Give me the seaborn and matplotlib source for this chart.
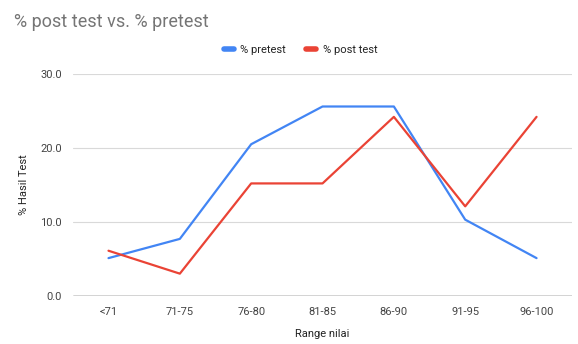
import pandas as pd
import seaborn as sns
import matplotlib.pyplot as plt
from matplotlib.lines import Line2D

# Data
categories = ["<71", "71-75", "76-80", "81-85", "86-90", "91-95", "96-100"]
pretest = [5.1, 7.7, 20.5, 25.6, 25.6, 10.3, 5.1]
posttest = [6.1, 3.0, 15.2, 15.2, 24.2, 12.1, 24.2]

df = pd.DataFrame({
    "Range nilai": categories * 2,
    "value": pretest + posttest,
    "series": ["% pretest"] * len(categories) + ["% post test"] * len(categories),
})

sns.set_style("white")
plt.rcParams["font.family"] = ["Roboto", "DejaVu Sans"]

fig = plt.figure(figsize=(5.78, 3.44), dpi=100)
ax = fig.add_axes([0.126, 0.14, 0.864, 0.645])

sns.lineplot(data=df, x="Range nilai", y="value", hue="series", sort=False,
             palette={"% pretest": "#4285F4", "% post test": "#EA4335"},
             linewidth=1.6, ax=ax, legend=False)

ax.set_ylim(0, 30)
ax.set_xlim(-0.5, 6.5)
ax.set_yticks([0, 10, 20, 30])
ax.set_yticklabels(["0.0", "10.0", "20.0", "30.0"])
ax.grid(axis="y", color="#d9d9d9", linewidth=0.8)
ax.axhline(0, color="#333333", linewidth=1)
for s in ax.spines.values():
    s.set_visible(False)
ax.tick_params(axis="both", length=0, labelsize=8, colors="#444444", pad=8)
ax.set_xlabel("Range nilai", fontsize=8, color="#222222", labelpad=9)
ax.set_ylabel("% Hasil Test", fontsize=8, color="#222222", labelpad=8)

fig.text(0.024, 0.935, "% post test vs. % pretest", fontsize=13, color="#757575", va="center")

handles = [Line2D([], [], color="#4285F4", linewidth=4),
           Line2D([], [], color="#EA4335", linewidth=4)]
fig.legend(handles, ["% pretest", "% post test"], loc="center", bbox_to_anchor=(0.52, 0.855),
           ncol=2, frameon=False, fontsize=8, handlelength=0.9, columnspacing=1.8,
           handletextpad=0.6, labelcolor="#222222")

fig.savefig("out.png", dpi=100)
